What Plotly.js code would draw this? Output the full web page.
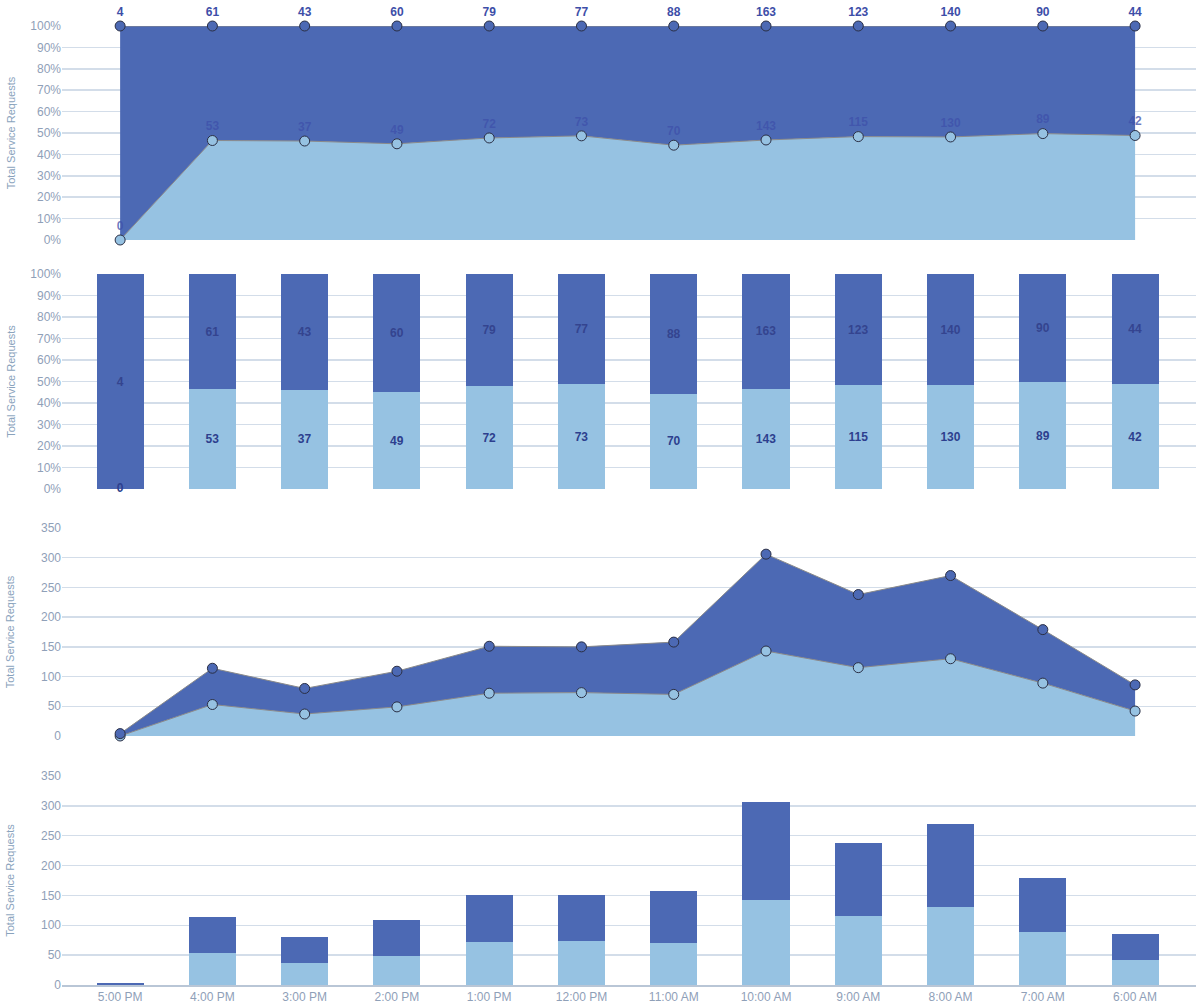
<!DOCTYPE html>
<html>
<head>
<meta charset="utf-8">
<script src="https://cdn.plot.ly/plotly-3.0.1.min.js"></script>
<style>html,body{margin:0;padding:0;background:#fff;}#chart{width:1200px;height:1008px;}</style>
</head>
<body>
<div id="chart"></div>
<script>
const categories = ["5:00 PM","4:00 PM","3:00 PM","2:00 PM","1:00 PM","12:00 PM","11:00 AM","10:00 AM","9:00 AM","8:00 AM","7:00 AM","6:00 AM"];
const lightValues = [0,53,37,49,72,73,70,143,115,130,89,42];
const darkValues  = [4,61,43,60,79,77,88,163,123,140,90,44];
const pctTicks = [0,10,20,30,40,50,60,70,80,90,100];
const pctTickLabels = ["0%","10%","20%","30%","40%","50%","60%","70%","80%","90%","100%"];
const numTicks = [0,50,100,150,200,250,300,350];

const DARK = "rgb(76,105,180)";
const LIGHT = "rgb(150,194,226)";
const LINE = "#8a8a8a";
const FONT = "Liberation Sans, Arial, sans-serif";
const TICK = "#8fa0b8";
const GRID = "#d3dde9";

const totals = categories.map((_, i) => lightValues[i] + darkValues[i]);
const lightPct = categories.map((_, i) => totals[i] ? lightValues[i] / totals[i] * 100 : 0);
const darkPct = categories.map((_, i) => totals[i] ? darkValues[i] / totals[i] * 100 : 0);
const zeroCats = categories.filter((_, i) => lightValues[i] === 0);

const mk = (c) => ({size: 10, color: c, line: {color: "#2a2f45", width: 1}});
const traces = [
  // Panel 1: normalized stacked area
  {x: categories, y: lightValues, xaxis: "x", yaxis: "y", type: "scatter", mode: "lines+markers+text",
   stackgroup: "p1", groupnorm: "percent", fillcolor: LIGHT, line: {color: LINE, width: 1},
   marker: mk(LIGHT), text: lightValues.map(String), textposition: "top center",
   textfont: {family: FONT, size: 12, color: "rgba(62,80,170,0.75)", weight: "bold"}, cliponaxis: false, hoverinfo: "x+text"},
  {x: categories, y: darkValues, xaxis: "x", yaxis: "y", type: "scatter", mode: "lines+markers+text",
   stackgroup: "p1", fillcolor: DARK, line: {color: LINE, width: 1},
   marker: mk(DARK), text: darkValues.map(String), textposition: "top center",
   textfont: {family: FONT, size: 12, color: "#3d4ea8", weight: "bold"}, cliponaxis: false, hoverinfo: "x+text"},
  // Panel 2: percent stacked bars
  {x: categories, y: lightPct, xaxis: "x", yaxis: "y2", type: "bar", marker: {color: LIGHT},
   text: lightValues.map(v => v === 0 ? "" : String(v)), textposition: "inside", insidetextanchor: "middle", constraintext: "none",
   textfont: {family: FONT, size: 12, color: "#2d3f8e", weight: "bold"}, cliponaxis: false},
  {x: categories, y: darkPct, xaxis: "x", yaxis: "y2", type: "bar", marker: {color: DARK},
   text: darkValues.map(String), textposition: "inside", insidetextanchor: "middle", constraintext: "none",
   textfont: {family: FONT, size: 12, color: "#34448f", weight: "bold"}},
  {x: zeroCats, y: zeroCats.map(() => 0), xaxis: "x", yaxis: "y2", type: "scatter", mode: "text",
   text: zeroCats.map(() => "0"), textposition: "middle center", cliponaxis: false,
   textfont: {family: FONT, size: 12, color: "#2d3f8e", weight: "bold"}},
  // Panel 3: stacked area absolute
  {x: categories, y: lightValues, xaxis: "x", yaxis: "y3", type: "scatter", mode: "lines+markers",
   stackgroup: "p3", fillcolor: LIGHT, line: {color: LINE, width: 1}, marker: mk(LIGHT), cliponaxis: false},
  {x: categories, y: darkValues, xaxis: "x", yaxis: "y3", type: "scatter", mode: "lines+markers",
   stackgroup: "p3", fillcolor: DARK, line: {color: LINE, width: 1}, marker: mk(DARK), cliponaxis: false},
  // Panel 4: stacked bars absolute
  {x: categories, y: lightValues, xaxis: "x", yaxis: "y4", type: "bar", marker: {color: LIGHT}},
  {x: categories, y: darkValues, xaxis: "x", yaxis: "y4", type: "bar", marker: {color: DARK}}
];

const f = (p) => 1 - p / 1008;
const titleFont = {family: FONT, size: 11, color: "#8aa3bd"};
const yBase = {
  gridcolor: GRID, gridwidth: 1.5, zeroline: false, showline: false, ticks: "",
  tickfont: {family: FONT, size: 12, color: TICK}, anchor: "x", tickmode: "array",
  automargin: false, fixedrange: true
};
const pctAxis = Object.assign({}, yBase, {range: [-0.0001, 100.0005], tickvals: pctTicks, ticktext: pctTickLabels,
  title: {text: "Total Service Requests", font: titleFont, standoff: 12}});
const numAxis = Object.assign({}, yBase, {range: [0, 350.0005], tickvals: numTicks, ticktext: numTicks.map(String),
  title: {text: "Total Service Requests", font: titleFont, standoff: 24}});

const layout = {
  width: 1200, height: 1008,
  margin: {l: 0, r: 0, t: 0, b: 0},
  paper_bgcolor: "#fff", plot_bgcolor: "#fff",
  showlegend: false, barmode: "stack", bargap: 0.49,
  font: {family: FONT},
  xaxis: {domain: [62/1200, 1196/1200], range: [-0.63, 11.66], type: "category", anchor: "y4",
    showgrid: false, showline: true, linecolor: "#b9c6d6", linewidth: 1.5,
    ticks: "", tickfont: {family: FONT, size: 12, color: TICK}, automargin: false, fixedrange: true},
  yaxis: Object.assign({}, pctAxis, {domain: [f(240), f(26)]}),
  yaxis2: Object.assign({}, pctAxis, {domain: [f(489), f(274)]}),
  yaxis3: Object.assign({}, numAxis, {domain: [f(736), f(528)]}),
  yaxis4: Object.assign({}, numAxis, {domain: [f(985), f(776)]})
};

Plotly.newPlot("chart", traces, layout, {displayModeBar: false, staticPlot: true});
</script>
</body>
</html>
